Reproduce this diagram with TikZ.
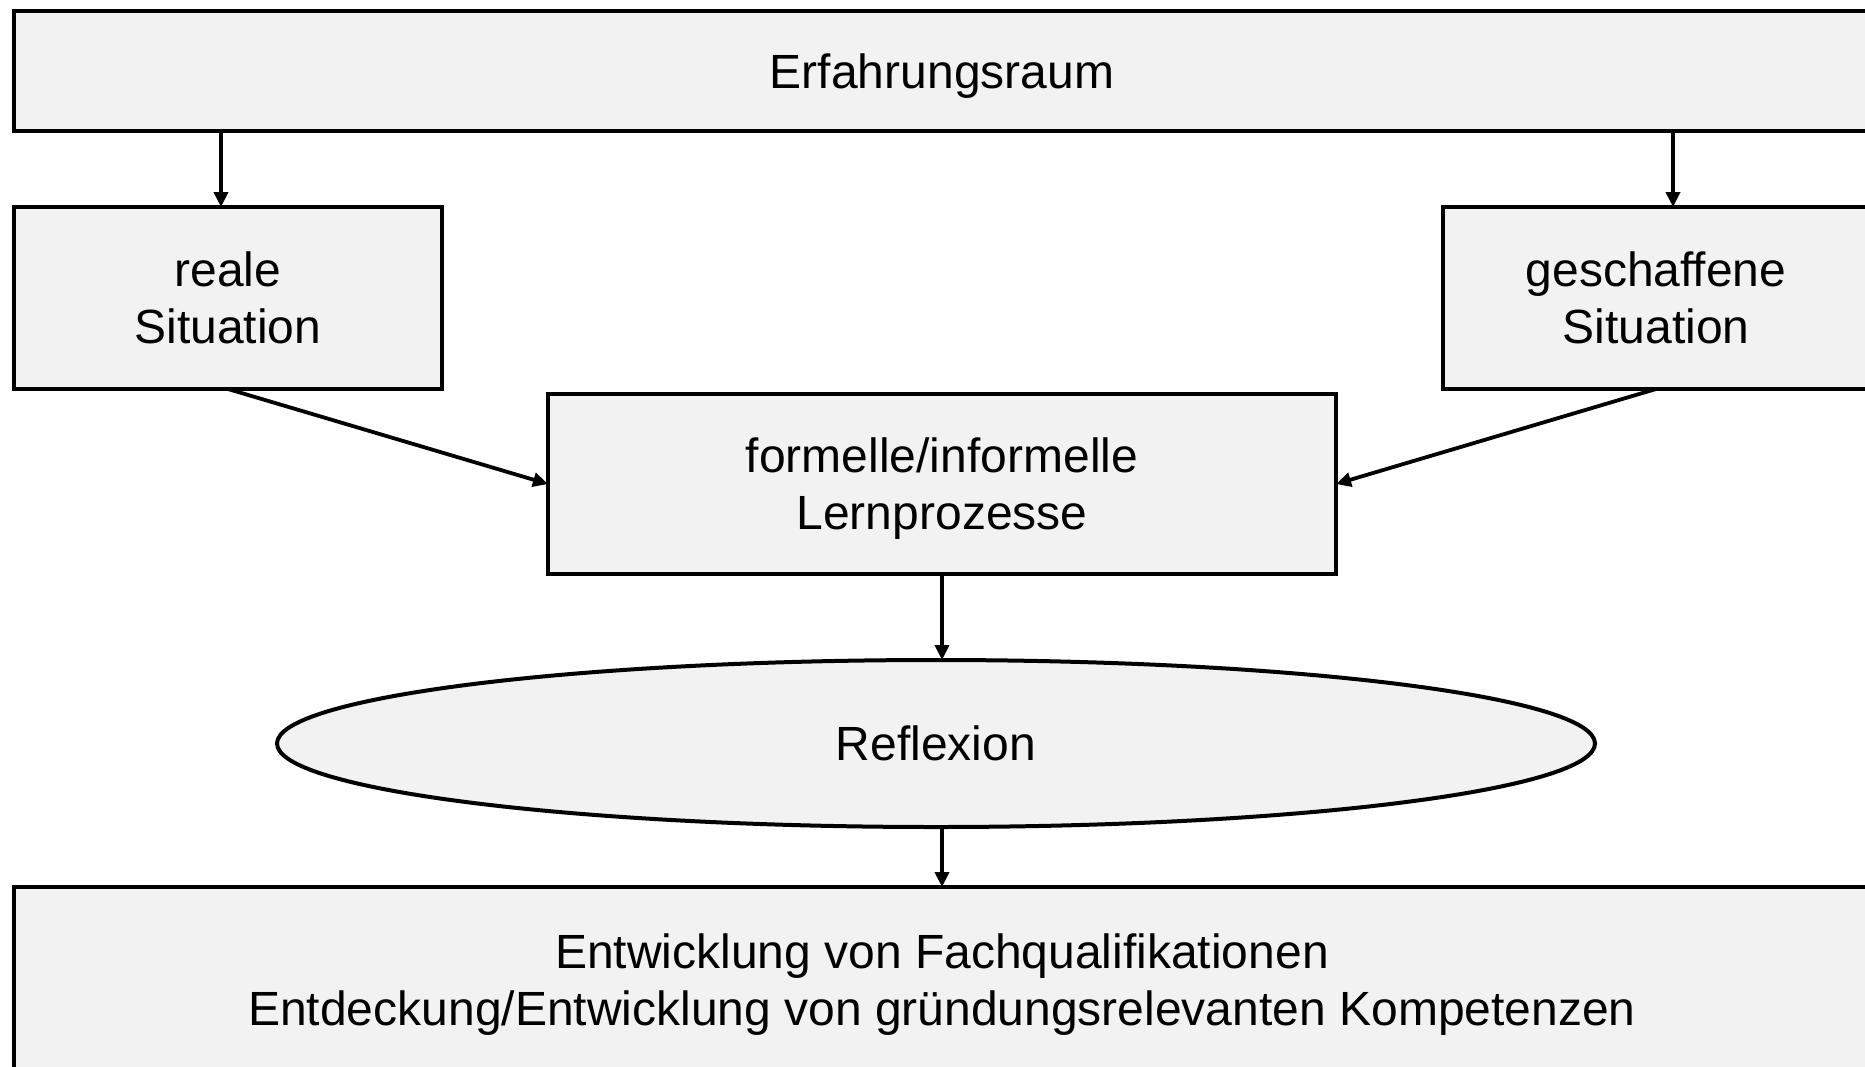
\documentclass[tikz,border=0pt]{standalone}
\usepackage{fontspec}
\setmainfont{Liberation Sans}
\usetikzlibrary{arrows.meta,shapes.geometric}
\definecolor{boxfill}{RGB}{242,242,242}
\tikzset{
  box/.style={draw=black, line width=4pt, fill=boxfill, rectangle, inner sep=0pt, outer sep=0pt,
    align=center, text depth=0pt, font=\fontsize{48}{57}\selectfont},
  oval/.style={draw=black, line width=4pt, fill=boxfill, ellipse, inner sep=0pt, outer sep=0pt,
    align=center, font=\fontsize{48}{57}\selectfont},
  arr/.style={line width=3.8pt, -{Triangle[length=15pt,width=14pt]}}
}
\begin{document}
\begin{tikzpicture}[x=1pt,y=-1pt]
\useasboundingbox (0,0) rectangle (1865,1066);
\clip (0,0) rectangle (1865,1066);
\node[box, minimum width=1856pt, minimum height=120pt] (top) at (942,71) {Erfahrungsraum};
\node[box, minimum width=428pt, minimum height=182pt] (reale) at (228,298) {reale\\Situation};
\node[box, minimum width=426pt, minimum height=182pt] (gesch) at (1656,298) {geschaffene\\Situation};
\node[box, minimum width=788pt, minimum height=180pt] (lern) at (942,484) {formelle/informelle\\Lernprozesse};
\node[oval, minimum width=1318pt, minimum height=167pt] (refl) at (936,743.5) {Reflexion};
\node[box, minimum width=1856pt, minimum height=186pt] (entw) at (942,980) {Entwicklung von Fachqualifikationen\\Entdeckung/Entwicklung von gründungsrelevanten Kompetenzen};
\draw[arr] (top.south -| 221,0) -- ([xshift=-7pt]reale.north);
\draw[arr] (top.south -| 1673,0) -- ([xshift=17pt]gesch.north);
\draw[arr] (reale.south) -- (lern.west);
\draw[arr] (gesch.south) -- (lern.east);
\draw[arr] (lern.south) -- (lern.south |- refl.north);
\draw[arr] (refl.south -| entw.north) -- (entw.north);
\end{tikzpicture}
\end{document}
